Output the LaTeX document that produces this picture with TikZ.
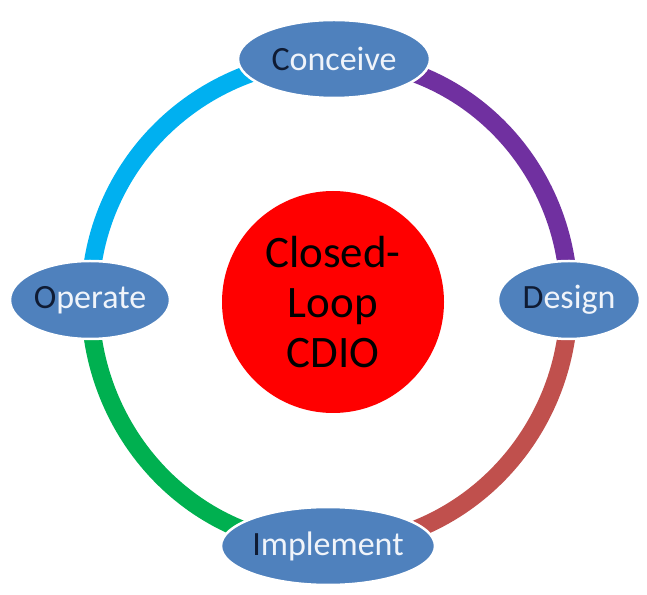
\documentclass[tikz,border=0pt]{standalone}
\usepackage{fontspec}
\setmainfont{Carlito}
\usetikzlibrary{shapes.geometric, backgrounds}
\definecolor{phasefill}{HTML}{4F81BD}
\definecolor{phasetext}{HTML}{F0F4FA}
\definecolor{initialcolor}{HTML}{0F1B33}
\definecolor{hubred}{HTML}{FF0000}
\definecolor{conceivearc}{HTML}{00B0F0}
\definecolor{designarc}{HTML}{7030A0}
\definecolor{implementarc}{HTML}{C0504D}
\definecolor{operatearc}{HTML}{00B050}

\begin{document}
\begin{tikzpicture}[
    x=1pt, y=1pt,
    phase/.style={ellipse, fill=phasefill, draw=white, line width=2.5pt, inner sep=0pt, text=phasetext, font=\fontsize{34}{40}\selectfont},
    ring/.style={line width=18pt, line cap=butt}
]
  \useasboundingbox (0,0) rectangle (647,594);

  % 1. Centre circle
  \node[circle, fill=hubred, minimum size=222pt, inner sep=0pt, align=center, font=\fontsize{45}{50}\selectfont] (hub) at (333,292) {Closed-\\Loop\\CDIO};

  % 2. Phases
  \node[phase, minimum width=192pt, minimum height=78pt] (conceive) at (334,535) {{\color{initialcolor}C}onceive};
  \node[phase, minimum width=142pt, minimum height=78pt] (design) at (569,294) {{\color{initialcolor}D}esign};
  \node[phase, minimum width=192pt, minimum height=78pt] (implement) at (328,48) {{\color{initialcolor}I}mplement};
  \node[phase, minimum width=160pt, minimum height=78pt] (operate) at (90,294) {{\color{initialcolor}O}perate};

  % 3. Ring segments (behind the phases)
  \begin{scope}[on background layer]
    \draw[ring, draw=conceivearc] (conceive.center) to[out=180, in=90] (operate.center);
    \draw[ring, draw=designarc] (conceive.center) to[out=0, in=90] (design.center);
    \draw[ring, draw=implementarc] (design.center) to[out=-90, in=0] (implement.center);
    \draw[ring, draw=operatearc] (operate.center) to[out=-90, in=180] (implement.center);
  \end{scope}

\end{tikzpicture}
\end{document}
